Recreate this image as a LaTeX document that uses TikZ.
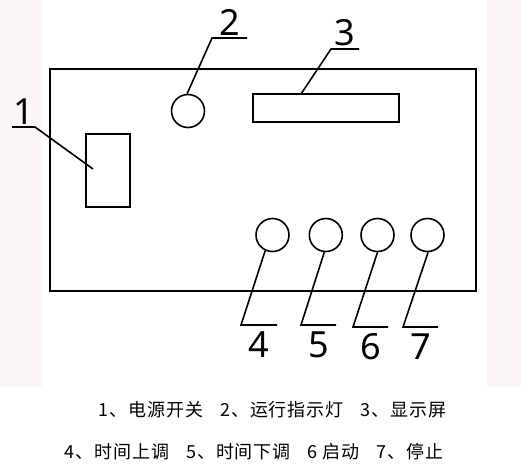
\documentclass[tikz,border=0pt]{standalone}
\usepackage{fontspec}
\setmainfont{Noto Sans}
\newfontfamily\cjk[LetterSpace=5]{Noto Sans CJK SC}
\usetikzlibrary{positioning}
\definecolor{sidestrip}{RGB}{250,246,247}

\begin{document}
\begin{tikzpicture}[x=1pt, y=-1pt, line width=1.6pt,
    part/.style={draw, rectangle, inner sep=0pt},
    knob/.style={draw, circle, inner sep=0pt, minimum size=33pt},
    tag/.style={font=\fontsize{36}{36}\selectfont, inner sep=2pt},
    legend/.style={font=\cjk\fontsize{18}{20}\selectfont, inner sep=0pt}]
    \useasboundingbox (0,0) rectangle (521,469);
    \fill[sidestrip] (0,0) rectangle (42,387);
    \fill[sidestrip] (487,0) rectangle (521,387);

    \node[part, minimum width=426pt, minimum height=222pt] (panel) at (263,180) {};
    \node[part, minimum width=44pt, minimum height=73pt] (switch) at (108,170.5) {};
    \node[part, minimum width=146pt, minimum height=28pt] (screen) at (326,108) {};
    \node[knob] (lamp) at (188,111) {};
    \node[knob] (up) at (272.5,235) {};
    \node[knob] (down) at (325.8,235) {};
    \node[knob] (start) at (377.5,235) {};
    \node[knob] (stop) at (427.5,235) {};

    \coordinate (switchpt) at (93,169);
    \coordinate (switchbend) at (35,127);
    \coordinate (switchend) at (12,127);
    \coordinate (lampbend) at (212,38);
    \coordinate (lampend) at (247,38);
    \coordinate (screenpt) at (301,94);
    \coordinate (screenbend) at (331,49);
    \coordinate (screenend) at (359,49);
    \coordinate (upbend) at (241,325);
    \coordinate (upend) at (277,325);
    \coordinate (downbend) at (301,325);
    \coordinate (downend) at (336,325);
    \coordinate (startbend) at (353,327);
    \coordinate (startend) at (388,327);
    \coordinate (stopbend) at (403,327);
    \coordinate (stopend) at (438,327);

    \draw (switchpt) -- (switchbend) -- (switchend) node[tag, midway, above] (n1) {1};
    \draw (lamp.93) -- (lampbend) -- (lampend) node[tag, midway, above] (n2) {2};
    \draw (screenpt) -- (screenbend) -- (screenend) node[tag, midway, above] (n3) {3};
    \draw (up.245) -- (upbend) -- (upend) node[tag, midway, below, inner sep=6pt] (n4) {4};
    \draw (down.265) -- (downbend) -- (downend) node[tag, midway, below, inner sep=6pt] (n5) {5};
    \draw (start.270) -- (startbend) -- (startend) node[tag, midway, below, inner sep=6pt] (n6) {6};
    \draw (stop.272) -- (stopbend) -- (stopend) node[tag, midway, below, inner sep=6pt] (n7) {7};

    \node[legend] (legendtop) at (272.5,410) {1、电源开关\hspace{17pt}2、运行指示灯\hspace{17pt}3、显示屏};
    \node[legend] (legendbottom) at (254,452) {4、时间上调\hspace{17pt}5、时间下调\hspace{17pt}6 启动\hspace{17pt}7、停止};
\end{tikzpicture}
\end{document}
